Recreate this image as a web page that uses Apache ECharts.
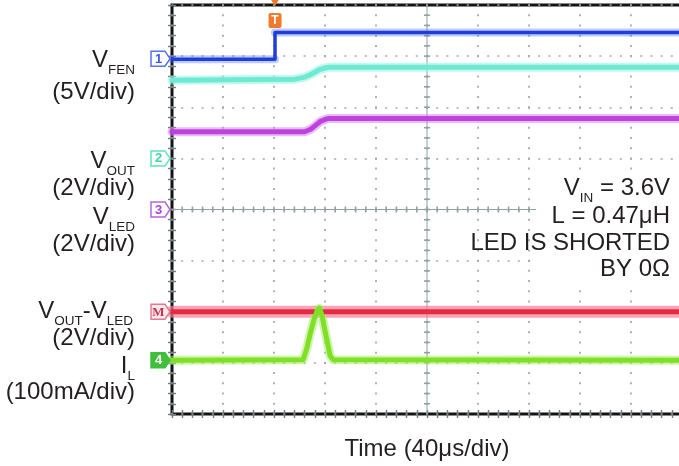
<!DOCTYPE html>
<html><head><meta charset="utf-8">
<script src="https://cdn.jsdelivr.net/npm/echarts@6/dist/echarts.min.js"></script>
<style>html,body{margin:0;padding:0;background:#fff}#c{width:679px;height:466px}</style>
</head><body><div id="c"></div>
<script>
// ---- data (time in divisions 0..10, amplitude in divisions 0..8 from bottom) ----
const ch1X = [0, 2.02, 2.02, 10];
const ch1Y = [6.94, 6.94, 7.46, 7.46];
const ch2X = [0, 2.41, 2.61, 2.76, 2.90, 3.06, 10];
const ch2Y = [6.53, 6.55, 6.59, 6.66, 6.74, 6.78, 6.78];
const ch3X = [0, 2.60, 2.72, 2.82, 2.92, 3.06, 10];
const ch3Y = [5.52, 5.52, 5.57, 5.65, 5.73, 5.78, 5.78];
const mathX = [0, 10];
const mathY = [2.0, 2.0];
const ch4X = [0, 2.57, 2.64, 2.71, 2.79, 2.85, 2.89, 2.94, 3.00, 3.10, 3.16, 10];
const ch4Y = [1.05, 1.06, 1.27, 1.57, 1.87, 2.03, 2.07, 1.93, 1.63, 1.14, 1.06, 1.05];
const groundLevels = [6.95, 5.0, 4.0, 2.0, 1.05];
const markerNames = ['1', '2', '3', 'M', '4'];
const triggerX = 2.02;
const timeTitle = 'Time (40μs/div)';
const chNames = [
  [{t: 'V'}, {t: 'FEN', sub: true}],
  [{t: 'V'}, {t: 'OUT', sub: true}],
  [{t: 'V'}, {t: 'LED', sub: true}],
  [{t: 'V'}, {t: 'OUT', sub: true}, {t: '-V'}, {t: 'LED', sub: true}],
  [{t: 'I'}, {t: 'L', sub: true}]
];
const chScales = ['(5V/div)', '(2V/div)', '(2V/div)', '(2V/div)', '(100mA/div)'];
const notes = [
  [{t: 'V'}, {t: 'IN', sub: true}, {t: ' = 3.6V'}],
  [{t: 'L = 0.47μH'}],
  [{t: 'LED IS SHORTED'}],
  [{t: 'BY 0Ω'}]
];

// ---- helpers ----
const FONT = '"Liberation Sans", Arial, Helvetica, sans-serif';
const zip = (xs, ys) => xs.map((x, i) => [x, ys[i]]);
function withGaps(xs, ys) { // break the halo at vertical edges
  const out = [];
  xs.forEach((x, i) => {
    if (i > 0 && xs[i - 1] === x) out.push([x, '-']);
    out.push([x, ys[i]]);
  });
  return out;
}
function trace(data, color, width, opacity, z) {
  return {type: 'line', data, showSymbol: false, symbol: 'none', silent: true, z,
    lineStyle: {color, width, opacity, cap: 'round', join: 'round'}};
}

const chart = echarts.init(document.getElementById('c'), null, {renderer: 'canvas'});
const tickCol = '#6f7f7f';
const dotLine = (dash) => ({show: true, lineStyle: {color: '#9ea8a8', width: 1.7, type: dash, dashOffset: 1}});
const baseX = {type: 'value', min: 0, max: 10, interval: 1,
  axisLine: {show: false}, axisLabel: {show: false},
  axisTick: {show: true, inside: true, length: 4, lineStyle: {color: tickCol, width: 1.4}},
  minorTick: {show: true, splitNumber: 5, length: 4, lineStyle: {color: tickCol, width: 1.4}}};
const baseY = {type: 'value', min: 0, max: 8, interval: 1,
  axisLine: {show: false}, axisLabel: {show: false},
  axisTick: {show: true, inside: true, length: 4, lineStyle: {color: tickCol, width: 1.4}},
  minorTick: {show: true, splitNumber: 5, length: 4, lineStyle: {color: tickCol, width: 1.4}}};

function crossRender(params, api) {
  const ch = [], col = '#90a2a2';
  const L = api.coord([0, 4]), R = api.coord([10, 4]), T = api.coord([5, 8]), B = api.coord([5, 0]);
  ch.push({type: 'line', shape: {x1: L[0], y1: L[1], x2: R[0], y2: R[1]}, style: {stroke: col, lineWidth: 1}});
  ch.push({type: 'line', shape: {x1: T[0], y1: T[1], x2: B[0], y2: B[1]}, style: {stroke: col, lineWidth: 1}});
  for (let i = 1; i < 50; i++) {
    const p = api.coord([i / 5, 4]);
    ch.push({type: 'line', shape: {x1: p[0], y1: p[1] - 3, x2: p[0], y2: p[1] + 3}, style: {stroke: col, lineWidth: 1.6}});
  }
  for (let i = 1; i < 40; i++) {
    const p = api.coord([5, i / 5]);
    ch.push({type: 'line', shape: {x1: p[0] - 3, y1: p[1], x2: p[0] + 3, y2: p[1]}, style: {stroke: col, lineWidth: 1.6}});
  }
  return {type: 'group', children: ch};
}

chart.setOption({
  animation: false,
  backgroundColor: '#fff',
  grid: {left: 172, top: 5, width: 510, height: 409, show: true, borderColor: '#141414', borderWidth: 3,
    containLabel: false, outerBoundsMode: 'none'},
  xAxis: [
    Object.assign({}, baseX, {position: 'bottom', splitLine: dotLine([2, 8.225]),
      name: timeTitle, nameLocation: 'middle', nameGap: 23,
      nameTextStyle: {fontSize: 24, fontFamily: FONT, color: '#231f20'}}),
    Object.assign({}, baseX, {position: 'top', splitLine: {show: false}})
  ],
  yAxis: [
    Object.assign({}, baseY, {position: 'left', splitLine: dotLine([2, 8.2])}),
    Object.assign({}, baseY, {position: 'right', splitLine: {show: false}})
  ],
  series: [
    {type: 'custom', data: [[5, 4]], renderItem: crossRender, silent: true, z: 1},
    trace(withGaps(ch1X, ch1Y), '#4a66ee', 8, 0.35, 3),
    trace(zip(ch1X, ch1Y), '#1f3ed8', 3.5, 1, 4),
    trace(zip(ch2X, ch2Y), '#9af5e4', 9, 0.6, 3),
    trace(zip(ch2X, ch2Y), '#6eead2', 5, 1, 4),
    trace(zip(ch3X, ch3Y), '#d37ae9', 9, 0.5, 3),
    trace(zip(ch3X, ch3Y), '#bd42df', 5, 1, 4),
    trace(zip(mathX, mathY), '#f27d96', 12, 0.7, 3),
    trace(zip(mathX, mathY), '#e62a44', 5, 1, 4),
    trace(zip(ch4X, ch4Y), '#a8ee6a', 9, 0.55, 3),
    trace(zip(ch4X, ch4Y), '#80e026', 5, 1, 4)
  ]
});

// ---- annotations positioned through the chart's scales ----
const mctx = document.createElement('canvas').getContext('2d');
function textW(t, size) { mctx.font = size + 'px ' + FONT; return mctx.measureText(t).width; }
const els = [];
function richLabel(parts, rightX, cy) {
  const MAIN = 24, SUB = 13.5;
  const ws = parts.map(p => textW(p.t, p.sub ? SUB : MAIN));
  let x = rightX - ws.reduce((a, b) => a + b, 0);
  parts.forEach((p, i) => {
    els.push({type: 'text', x: x, y: p.sub ? cy + 10.5 : cy, z: 30,
      style: {text: p.t, fontSize: p.sub ? SUB : MAIN, fontFamily: FONT, fill: '#231f20', align: 'left', verticalAlign: 'middle'}});
    x += ws[i];
  });
}
const nameY = [60, 161, 217, 311, 366];
const scaleY = [92, 188, 244, 338, 392];
chNames.forEach((p, i) => richLabel(p, i === 3 ? 133 : 135, nameY[i]));
chScales.forEach((s, i) => richLabel([{t: s}], 135, scaleY[i]));

// white box behind the notes
els.push({type: 'rect', z: 20, shape: {x: 536, y: 172, width: 150, height: 112}, style: {fill: '#fff'}});
const noteY = [188, 216, 243, 269];
notes.forEach((p, i) => richLabel(p, 670, noteY[i]));

// channel ground markers
const mk = [
  {stroke: '#5573ee', fill: '#fff', text: '#3d5ce8', font: 'sans'},
  {stroke: '#62e2b8', fill: '#fff', text: '#3fd39f', font: 'sans'},
  {stroke: '#b366e2', fill: '#fff', text: '#a544d8', font: 'sans'},
  {stroke: '#df7c95', fill: '#fde8ec', text: '#c8324f', font: 'serif'},
  {stroke: '#3fbf3c', fill: '#3fbf3c', text: '#fff', font: 'sans'}
];
groundLevels.forEach((lv, i) => {
  const p = chart.convertToPixel({gridIndex: 0}, [0, lv]);
  const x = p[0], y = p[1];
  els.push({type: 'polygon', z: 25, shape: {points: [[x - 21, y - 7.5], [x - 7, y - 7.5], [x - 2, y], [x - 7, y + 7.5], [x - 21, y + 7.5]]},
    style: {stroke: mk[i].stroke, fill: mk[i].fill, lineWidth: 1.5}});
  els.push({type: 'text', z: 26, x: x - 13.5, y: y + 0.5,
    style: {text: markerNames[i], fontSize: 13, fontWeight: 'bold',
      fontFamily: mk[i].font === 'serif' ? '"Liberation Serif", serif' : FONT,
      fill: mk[i].text, align: 'center', verticalAlign: 'middle'}});
});

// trigger marker
const tp = chart.convertToPixel({gridIndex: 0}, [triggerX, 8]);
els.push({type: 'polygon', z: 25, shape: {points: [[tp[0] - 5, -2], [tp[0] + 5, -2], [tp[0], 6]]}, style: {fill: '#f07a2c'}});
els.push({type: 'rect', z: 25, shape: {x: tp[0] - 6.5, y: 13, width: 13, height: 15, r: 2}, style: {fill: '#f07a2c'}});
els.push({type: 'text', z: 26, x: tp[0], y: 21, style: {text: 'T', fontSize: 12, fontWeight: 'bold', fontFamily: FONT, fill: '#fff', align: 'center', verticalAlign: 'middle'}});

chart.setOption({graphic: {elements: els}});
</script>
</body></html>
